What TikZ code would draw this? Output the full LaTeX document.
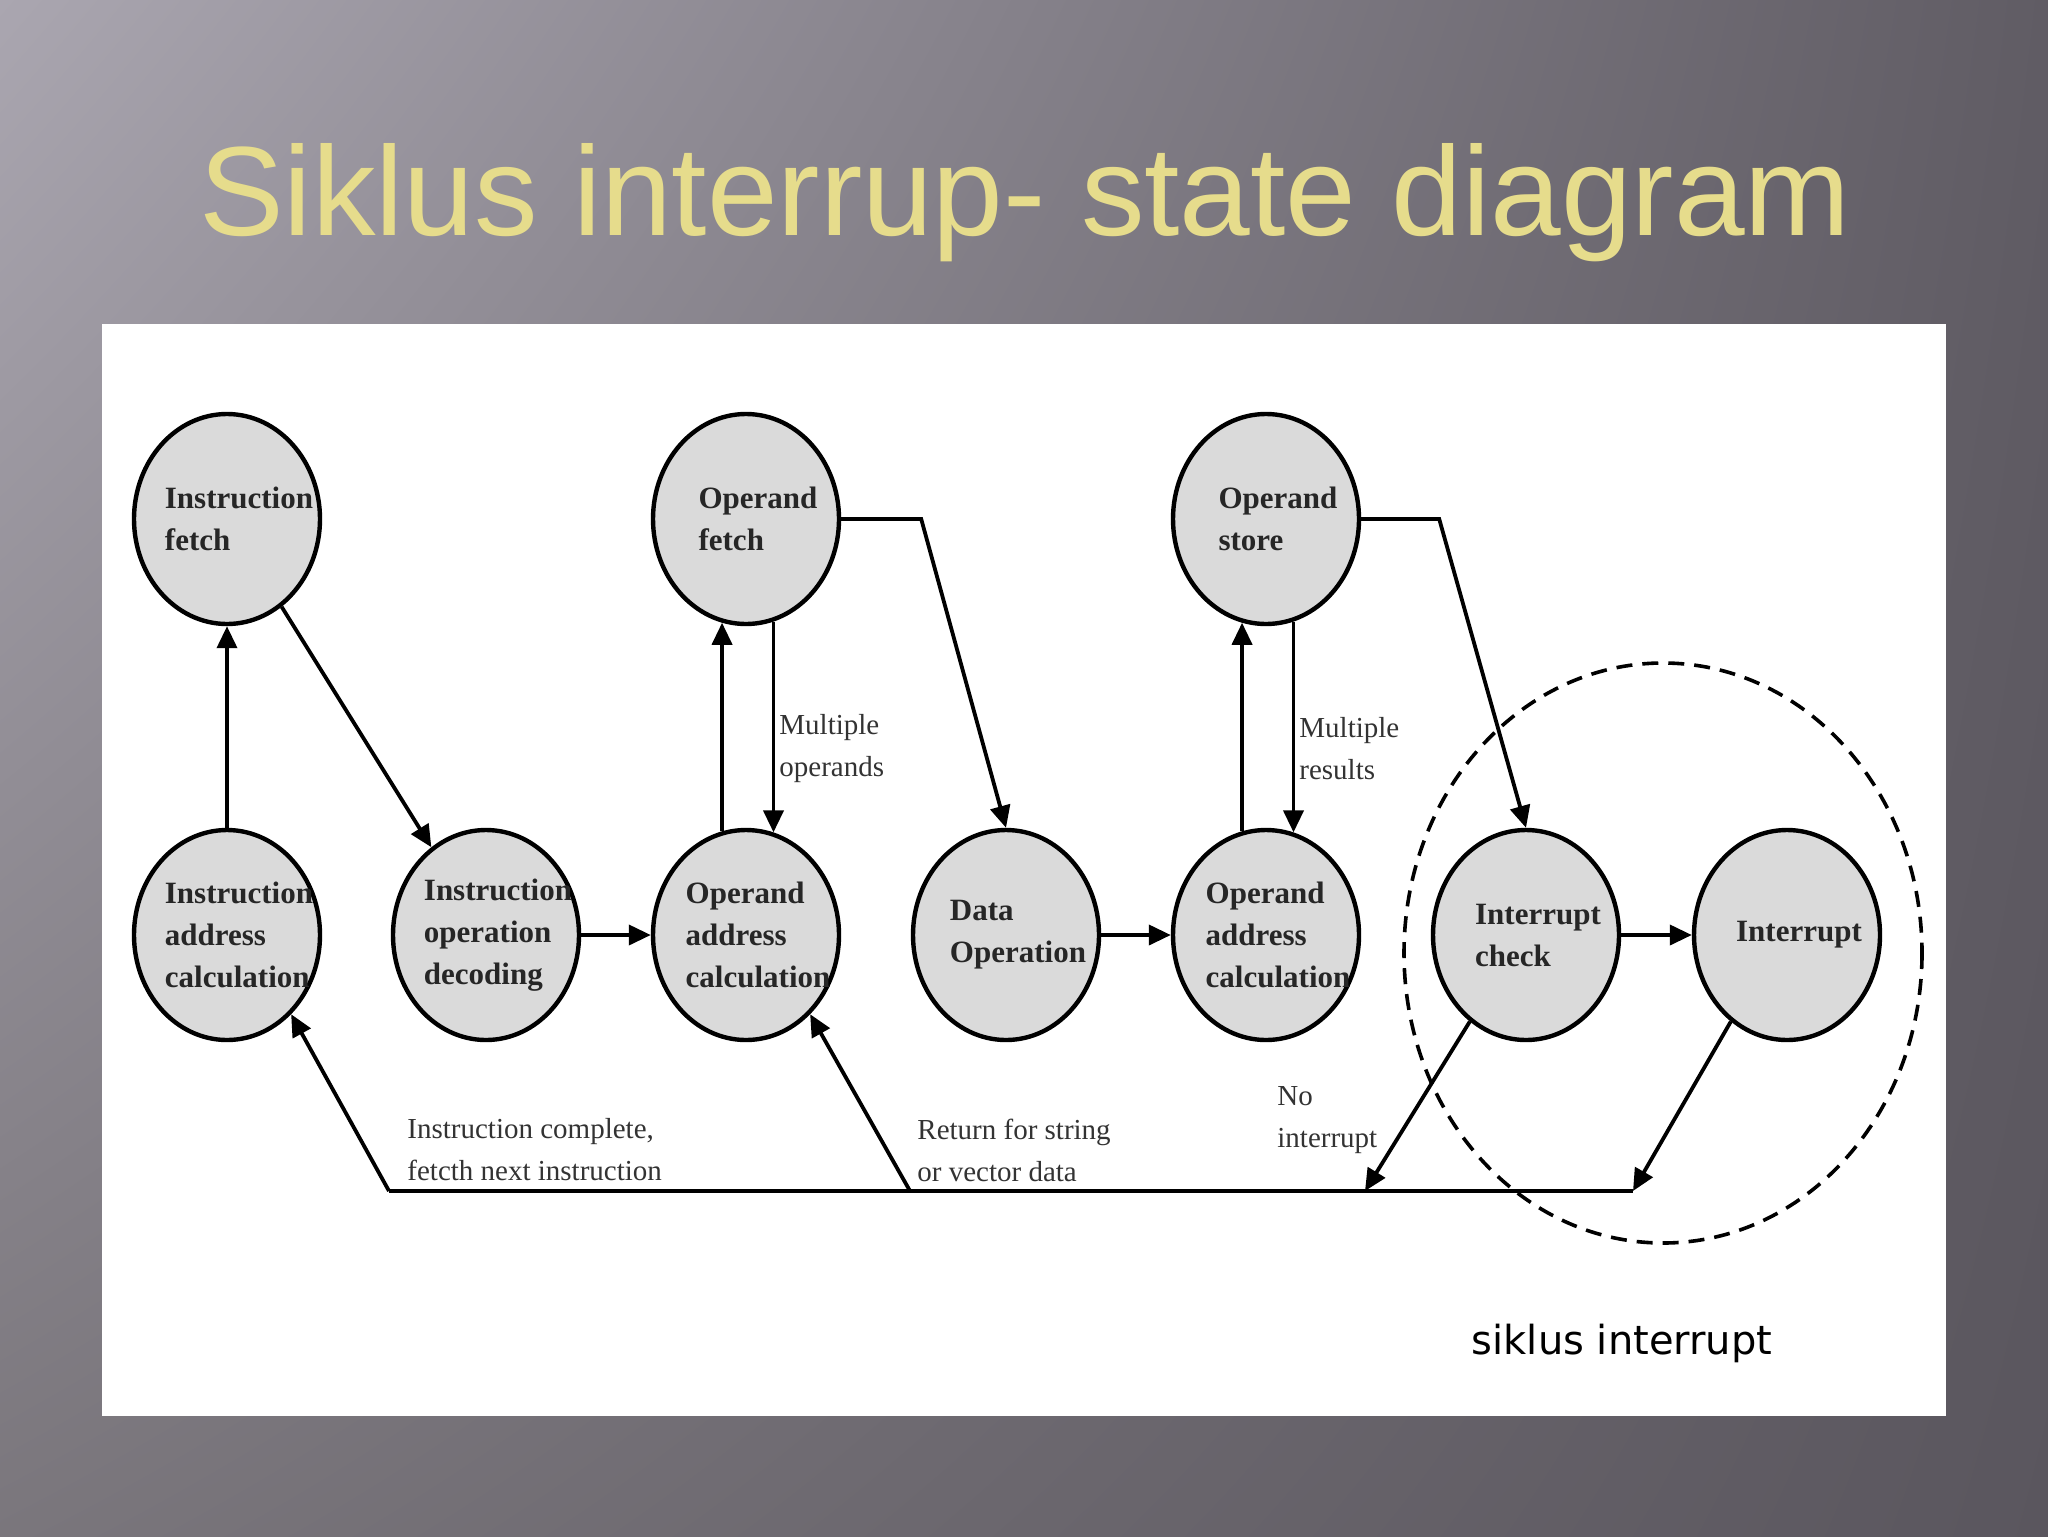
\documentclass[tikz,border=0pt]{standalone}
\usepackage{fontspec}
\setmainfont{Liberation Serif}
\newfontfamily\titlefont{Liberation Sans}
\newfontfamily\handfont{DejaVu Sans}
\usetikzlibrary{shapes.geometric,arrows.meta,shadings}

\definecolor{slidetitle}{RGB}{230,220,140}
\definecolor{statefill}{RGB}{218,218,218}
\definecolor{bgtl}{RGB}{170,166,176}
\definecolor{bgtr}{RGB}{96,92,100}
\definecolor{bgbl}{RGB}{122,118,124}
\definecolor{bgbr}{RGB}{90,86,94}

\tikzset{
  state/.style={ellipse, draw, line width=2.2pt, fill=statefill,
    minimum width=93pt, minimum height=105pt, inner sep=0pt},
  statetxt/.style={font=\fontsize{15.5}{21}\selectfont\bfseries, align=left,
    xshift=6pt, text=black!85},
  flow/.style={line width=1.9pt, -{Triangle[length=11pt,width=10pt]}},
  note/.style={font=\fontsize{14.5}{21}\selectfont, align=left, text=black!80, inner sep=2pt},
}

\begin{document}
\begin{tikzpicture}[x=0.5pt,y=0.5pt,yscale=-1,xscale=1]
\useasboundingbox (0,0) rectangle (2048,1536);

% slide background and panel
\shade[upper left=bgtl, upper right=bgtr, lower left=bgbl, lower right=bgbr] (0,0) rectangle (2048,1536);
\fill[white] (102,324) rectangle (1946,1416);

% Title
\node[font=\titlefont\fontsize{63.5}{70}\selectfont, text=slidetitle, anchor=base] (title) at (1025,235) {Siklus interrup- state diagram};

% States, upper row
\node[state, label={[statetxt]center:Instruction\\fetch}] (ifetch) at (227,519) {};
\node[state, label={[statetxt]center:Operand\\fetch}] (ofetch) at (746,519) {};
\node[state, label={[statetxt]center:Operand\\store}] (ostore) at (1266,519) {};
% States, lower row
\node[state, label={[statetxt]center:Instruction\\address\\calculation}] (iac) at (227,935) {};
\node[state, label={[statetxt]center:Instruction\\operation\\decoding}] (iod) at (486,935) {};
\node[state, label={[statetxt]center:Operand\\address\\calculation}] (oac) at (746,935) {};
\node[state, label={[statetxt]center:Data\\Operation}] (dop) at (1006,935) {};
\node[state, label={[statetxt]center:Operand\\address\\calculation}] (oac2) at (1266,935) {};
\node[state, label={[statetxt]center:Interrupt\\check}] (icheck) at (1526,935) {};
\node[state, label={[statetxt]center:Interrupt}] (intr) at (1787,935) {};

% Interrupt cycle boundary
\draw[line width=1.8pt, dash pattern=on 8pt off 5pt] (1663,953) ellipse [x radius=259, y radius=290];

% Connectors
\draw[flow] (iac) -- (ifetch);
\draw[flow] (ifetch) -- (iod);
\draw[flow] (iod) -- (oac);
\draw[flow] (oac.103) -- (ofetch.257);
\draw[flow] (ofetch.285) -- node[note, right, pos=0.6] (lmops) {Multiple\\operands} (oac.75);
\draw[flow] (ofetch.east) -- ++(80,0) -- (dop.north);
\draw[flow] (dop) -- (oac2);
\draw[flow] (oac2.103) -- (ostore.257);
\draw[flow] (ostore.285) -- node[note, right, pos=0.6] (lmres) {Multiple\\results} (oac2.75);
\draw[flow] (ostore.east) -- ++(78,0) -- (icheck.north);
\draw[flow] (icheck) -- (intr);

% Return line
\coordinate (bl) at (389,1191);
\coordinate (bm) at (910,1191);
\coordinate (nl) at (1365,1191);
\coordinate (br) at (1633,1191);
\draw[line width=1.9pt] (bl) -- (br);
\draw[flow] (bl) -- (iac.-51);
\draw[flow] (bm) -- (oac.-51);
\draw[flow] (icheck.-123) -- (nl);
\draw[flow] (intr.-123) -- (br);

% Text Node
\node[note, anchor=west] (lcomplete) at (403,1150) {Instruction complete,\\fetcth next instruction};
% Text Node
\node[note, anchor=west] (lreturn) at (913,1150) {Return for string\\or vector data};
% Text Node
\node[note, anchor=west] (lnoint) at (1273,1120) {No\\interrupt};
% Text Node
\node[font=\handfont\fontsize{20}{24}\selectfont] (lsiklus) at (1622,1343) {siklus interrupt};

\end{tikzpicture}
\end{document}
